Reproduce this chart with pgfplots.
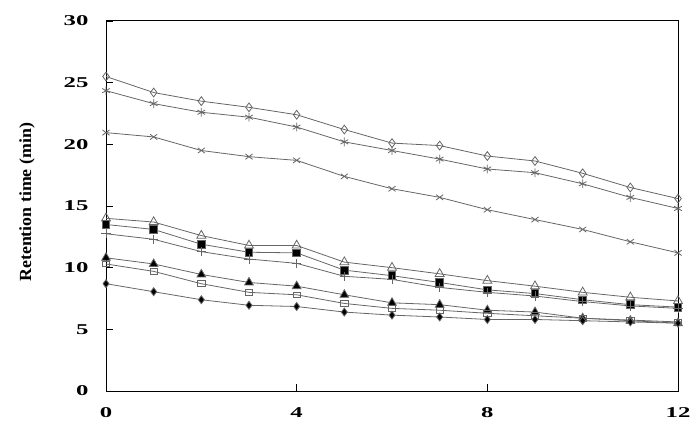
\documentclass[border=0pt]{standalone}
\usepackage{pgfplots}
\pgfplotsset{compat=1.18}
\usepackage{fontspec}
\setmainfont{Liberation Serif}
\newfontfamily\tickfont[FakeStretch=1.65]{Liberation Serif}
\newfontfamily\labfont[FakeStretch=1.05]{Liberation Serif}
\begin{document}
\begin{tikzpicture}[x=1pt,y=1pt]
\path[use as bounding box] (0,0) rectangle (700,434);
\begin{axis}[
  at={(106pt,43pt)}, anchor=south west,
  scale only axis, width=572pt, height=370pt,
  xmin=0, xmax=12, ymin=0, ymax=30,
  xtick={0,4,8,12}, ytick={0,5,...,30},
  tick align=inside, xtick pos=bottom, ytick pos=left,
  major tick length=7pt,
  tick style={black, line width=0.8pt},
  axis line style={line width=1pt},
  /pgf/number format/assume math mode=true,
  ticklabel style={font=\tickfont\bfseries\fontsize{15}{15}\selectfont},
  yticklabel style={xshift=-14pt},
  xticklabel style={yshift=-13pt},
  ylabel={Retention time (min)},
  ylabel style={font=\labfont\bfseries\fontsize{17}{17}\selectfont, at={(axis description cs:-0.138,0.51)}, anchor=center},
  clip=false,
  every axis plot/.style={color=black!60, solid, line width=0.8pt, mark size=3.8pt, mark options={draw=black, solid, line width=0.6pt, xscale=1.15}},
]
\addplot[mark=diamond, mark options={fill=white, mark size=4.4pt}] coordinates {(0,25.5)(1,24.2)(2,23.5)(3,23.0)(4,22.4)(5,21.2)(6,20.1)(7,19.9)(8,19.05)(9,18.65)(10,17.65)(11,16.5)(12,15.6)};
\addplot[mark=asterisk, mark options={mark size=4.4pt}] coordinates {(0,24.35)(1,23.3)(2,22.6)(3,22.2)(4,21.4)(5,20.2)(6,19.5)(7,18.8)(8,18.0)(9,17.7)(10,16.8)(11,15.7)(12,14.8)};
\addplot[mark=x, mark options={mark size=5pt, yscale=0.75}] coordinates {(0,20.95)(1,20.6)(2,19.5)(3,19.0)(4,18.7)(5,17.4)(6,16.4)(7,15.7)(8,14.7)(9,13.9)(10,13.1)(11,12.1)(12,11.2)};
\addplot[mark=triangle, mark options={fill=white, mark size=5.2pt}] coordinates {(0,14.0)(1,13.7)(2,12.6)(3,11.8)(4,11.8)(5,10.45)(6,10.0)(7,9.5)(8,8.95)(9,8.5)(10,8.0)(11,7.6)(12,7.3)};
\addplot[mark=square*, mark options={fill=black, mark size=3.8pt}] coordinates {(0,13.5)(1,13.1)(2,11.9)(3,11.25)(4,11.2)(5,9.8)(6,9.35)(7,8.8)(8,8.2)(9,7.9)(10,7.4)(11,7.0)(12,6.8)};
\addplot[mark=+, mark options={mark size=4.6pt}] coordinates {(0,12.75)(1,12.3)(2,11.3)(3,10.7)(4,10.35)(5,9.3)(6,9.05)(7,8.4)(8,8.0)(9,7.7)(10,7.25)(11,6.9)(12,6.7)};
\addplot[mark=triangle*, mark options={fill=black, mark size=5pt}] coordinates {(0,10.8)(1,10.3)(2,9.45)(3,8.8)(4,8.5)(5,7.8)(6,7.15)(7,7.0)(8,6.55)(9,6.4)(10,5.9)(11,5.7)(12,5.5)};
\addplot[mark=square, mark options={fill=white, mark size=3.6pt, yscale=0.8}] coordinates {(0,10.3)(1,9.7)(2,8.7)(3,8.0)(4,7.8)(5,7.1)(6,6.7)(7,6.55)(8,6.3)(9,6.1)(10,5.9)(11,5.75)(12,5.6)};
\addplot[mark=diamond*, mark options={fill=black, mark size=4pt}] coordinates {(0,8.7)(1,8.05)(2,7.4)(3,6.95)(4,6.85)(5,6.4)(6,6.15)(7,6.0)(8,5.8)(9,5.8)(10,5.7)(11,5.6)(12,5.5)};
\end{axis}
\end{tikzpicture}
\end{document}
